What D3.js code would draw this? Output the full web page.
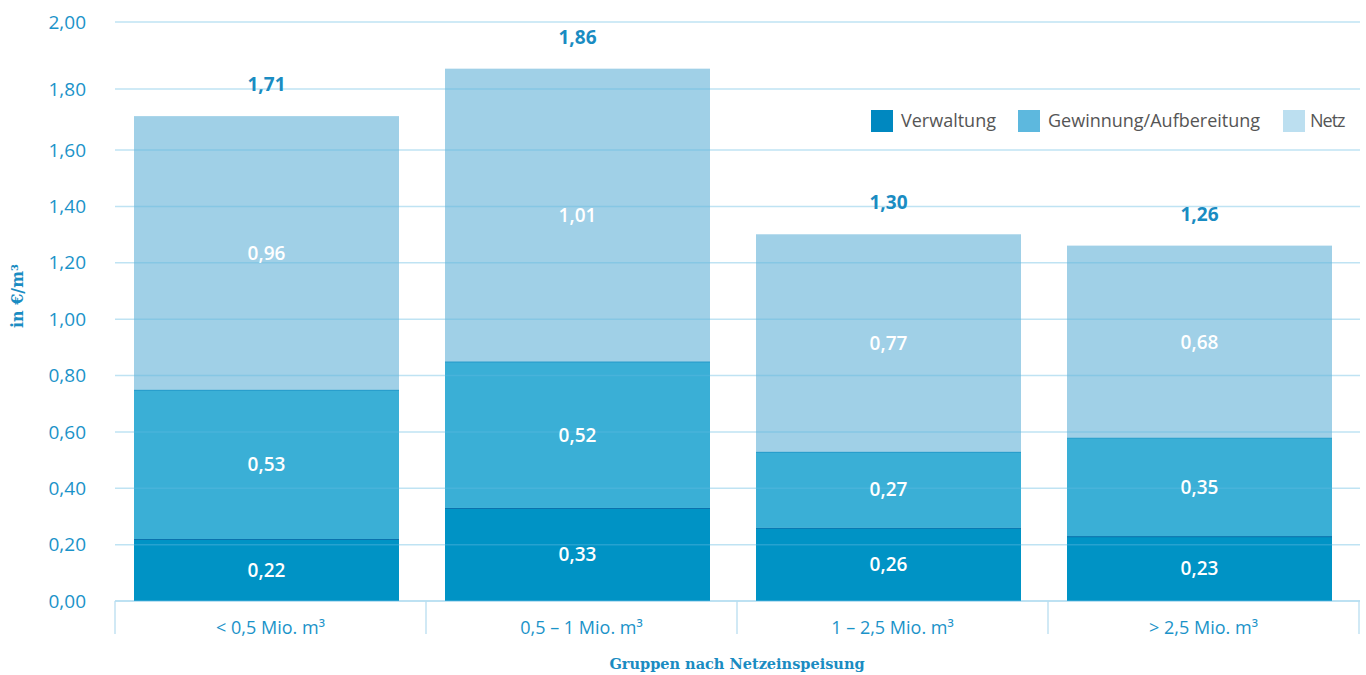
<!DOCTYPE html>
<html>
<head>
<meta charset="utf-8">
<script src="https://cdn.jsdelivr.net/npm/d3@7"></script>
<style>
  body { margin: 0; background: #fff; }
  svg { display: block; }
</style>
</head>
<body>
<div id="chart"></div>
<script>
const categories = ['< 0,5 Mio. m³', '0,5 – 1 Mio. m³', '1 – 2,5 Mio. m³', '> 2,5 Mio. m³']
const seriesNames = ['Verwaltung', 'Gewinnung/Aufbereitung', 'Netz']
const verwaltung = [0.22, 0.33, 0.26, 0.23]
const gewinnung = [0.53, 0.52, 0.27, 0.35]
const netz = [0.96, 1.01, 0.77, 0.68]
const totals = [1.71, 1.86, 1.30, 1.26]
const yTicks = [0, 0.2, 0.4, 0.6, 0.8, 1.0, 1.2, 1.4, 1.6, 1.8, 2.0]

const width = 1366
const height = 675
const barColors = ['#0093c5', '#3aafd6', '#a0d0e7']
const edgeColors = ['#0a72ad', '#2598c8', '#a0d0e7']
const swatchColors = ['#0088c0', '#5db8de', '#bcdff0']
const blue = '#1b93c9'
const sans = "'Open Sans', sans-serif"
const serif = "'DejaVu Serif', serif"

const de = d3.formatLocale({ decimal: ',', thousands: '.', grouping: [3], currency: ['', '€'] })
const fmt = de.format('.2f')

const svg = d3.select('#chart').append('svg')
  .attr('width', width)
  .attr('height', height)

// bands span the plot; the top of the axis is stretched like the original
const x = d3.scaleBand().domain(categories).range([115, 1359])
const y = d3.scaleLinear().domain([0, 1.6, 1.8, 2.0]).range([601, 150, 89, 22])

const rows = categories.map((c, i) => ({ cat: c, Verwaltung: verwaltung[i], 'Gewinnung/Aufbereitung': gewinnung[i], Netz: netz[i], total: totals[i] }))
const stacked = d3.stack().keys(seriesNames)(rows)

const barW = 265
const barOff = 19

// bars
stacked.forEach((layer, li) => {
  const g = svg.append('g')
  g.selectAll('rect')
    .data(layer)
    .join('rect')
    .attr('x', d => x(d.data.cat) + barOff)
    .attr('y', d => y(d[1]))
    .attr('width', barW)
    .attr('height', d => y(d[0]) - y(d[1]))
    .attr('fill', barColors[li])
  g.selectAll('line')
    .data(layer)
    .join('line')
    .attr('x1', d => x(d.data.cat) + barOff)
    .attr('x2', d => x(d.data.cat) + barOff + barW)
    .attr('y1', d => y(d[1]) + 0.5)
    .attr('y2', d => y(d[1]) + 0.5)
    .attr('stroke', edgeColors[li])
    .attr('stroke-width', 1.2)
})

// gridlines over the bars
svg.append('g')
  .selectAll('line')
  .data(yTicks)
  .join('line')
  .attr('x1', 115)
  .attr('x2', 1360)
  .attr('y1', d => y(d))
  .attr('y2', d => y(d))
  .attr('stroke', '#5fb8e0')
  .attr('stroke-opacity', d => d === 0 ? 0.55 : 0.4)
  .attr('stroke-width', 1.5)

// tick labels
svg.append('g')
  .selectAll('text')
  .data(yTicks)
  .join('text')
  .attr('x', 86)
  .attr('y', d => y(d))
  .attr('dy', '0.35em')
  .attr('text-anchor', 'end')
  .attr('font-family', sans)
  .attr('font-size', 19)
  .attr('fill', blue)
  .text(d => fmt(d))

// category separators
svg.append('g')
  .selectAll('line')
  .data(categories.map(c => x(c)).concat([x.range()[1]]))
  .join('line')
  .attr('x1', d => d)
  .attr('x2', d => d)
  .attr('y1', y(0))
  .attr('y2', 634)
  .attr('stroke', '#b8def0')
  .attr('stroke-width', 1.3)

svg.append('g')
  .selectAll('text')
  .data(categories)
  .join('text')
  .attr('x', d => x(d) + x.bandwidth() / 2)
  .attr('y', 634)
  .attr('text-anchor', 'middle')
  .attr('font-family', sans)
  .attr('font-size', 18)
  .attr('fill', blue)
  .text(d => d)

// segment values
stacked.forEach(layer => {
  svg.append('g')
    .selectAll('text')
    .data(layer)
    .join('text')
    .attr('x', d => x(d.data.cat) + barOff + barW / 2)
    .attr('y', d => (y(d[0]) + y(d[1])) / 2)
    .attr('dy', '0.36em')
    .attr('text-anchor', 'middle')
    .attr('font-family', sans)
    .attr('font-weight', 600)
    .attr('font-size', 19)
    .attr('fill', '#fff')
    .text(d => fmt(d[1] - d[0]))
})

// totals
svg.append('g')
  .selectAll('text')
  .data(rows)
  .join('text')
  .attr('x', d => x(d.cat) + barOff + barW / 2)
  .attr('y', d => y(d.total) - 32)
  .attr('dy', '0.36em')
  .attr('text-anchor', 'middle')
  .attr('font-family', sans)
  .attr('font-weight', 700)
  .attr('font-size', 19)
  .attr('fill', '#1a8cc2')
  .text(d => fmt(d.total))

// axis titles
svg.append('text')
  .attr('transform', 'translate(23,296) rotate(-90)')
  .attr('text-anchor', 'middle')
  .attr('font-family', serif)
  .attr('font-weight', 700)
  .attr('font-size', 16)
  .attr('fill', '#1a8cc2')
  .text('in €/m³')

svg.append('text')
  .attr('x', (x.range()[0] + x.range()[1]) / 2)
  .attr('y', 669)
  .attr('text-anchor', 'middle')
  .attr('font-family', serif)
  .attr('font-weight', 700)
  .attr('font-size', 14.5)
  .attr('fill', '#1a8cc2')
  .text('Gruppen nach Netzeinspeisung')

// legend
const legendX = [871, 1018, 1283]
const legend = svg.append('g')
  .selectAll('g')
  .data(seriesNames)
  .join('g')
  .attr('transform', (d, i) => `translate(${legendX[i]},110)`)
legend.append('rect')
  .attr('width', 22)
  .attr('height', 22)
  .attr('fill', (d, i) => swatchColors[i])
legend.append('text')
  .attr('x', (d, i) => i === 2 ? 27 : 30)
  .attr('y', 11)
  .attr('dy', '0.36em')
  .attr('font-family', sans)
  .attr('font-size', 18)
  .attr('fill', '#555')
  .attr('letter-spacing', (d, i) => i === 2 ? -1 : 0)
  .text(d => d)
</script>
</body>
</html>
